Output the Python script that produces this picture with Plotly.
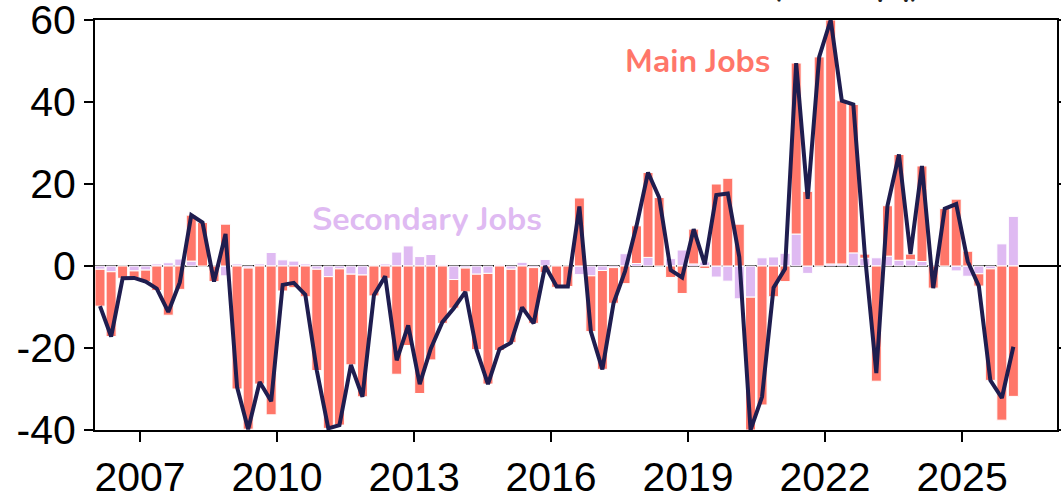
import plotly.graph_objects as go

# Quarterly data, 2006 Q1 .. 2026 Q1 (values in thousands)
main_jobs = [
    -9.0, -15.8, -3.0, -1.7, -2.8, -6.0, -12.0, -5.7,
    11.2, 10.6, -3.8, 10.2, -30.0, -39.3, -28.8, -36.3,
    -6.1, -5.3, -7.5, -24.7, -37.0, -38.1, -22.1, -29.7,
    -7.3, -3.0, -26.4, -19.4, -31.1, -22.9, -14.0, -7.0,
    -5.8, -18.4, -27.0, -20.6, -17.9, -11.0, -13.6, -1.6,
    -5.2, -5.0, 16.6, -13.6, -24.1, -8.7, -4.3, 9.2,
    20.7, 16.7, -2.8, -6.7, 8.5, -0.6, 20.0, 21.4,
    10.2, -32.4, -33.9, -7.5, -3.8, 41.7, 18.2, 51.0,
    59.5, 39.8, 36.2, 1.0, -28.1, 12.3, 25.8, 1.4,
    23.3, -5.4, 14.0, 16.3, 3.6, -3.0, -27.2, -37.6,
    -31.8,
]
secondary_jobs = [
    -0.8, -1.4, 0.0, -1.2, -1.0, 0.5, 0.8, 1.7,
    1.2, 0.0, 0.0, -2.4, 0.5, -0.5, 0.5, 3.3,
    1.5, 1.2, 0.5, -0.8, -2.6, -0.7, -2.0, -2.2,
    0.2, 0.5, 3.4, 4.9, 2.3, 2.8, 0.3, -3.3,
    -0.5, -2.0, -1.8, 0.3, -0.8, 0.9, -0.4, 1.6,
    0.2, 0.0, -2.1, -2.4, -1.1, -0.4, 3.0, 0.6,
    2.1, 0.0, 1.8, 3.9, 0.5, 1.0, -2.7, -3.7,
    -8.0, -7.6, 2.0, 2.2, 3.1, 7.8, -1.8, 0.0,
    0.5, 0.5, 3.2, 1.9, 2.0, 2.4, 1.4, 1.5,
    1.1, 0.0, 0.0, -1.2, -2.5, -1.9, -0.7, 5.4,
    12.1,
]
total_jobs = [
    -9.8, -17.2, -3.0, -2.9, -3.8, -5.5, -11.2, -4.0,
    12.4, 10.6, -3.8, 7.8, -29.5, -39.8, -28.3, -33.0,
    -4.6, -4.1, -7.0, -25.5, -39.6, -38.8, -24.1, -31.9,
    -7.1, -2.5, -23.0, -14.5, -28.8, -20.1, -13.7, -10.3,
    -6.3, -20.4, -28.8, -20.3, -18.7, -10.1, -14.0, 0.0,
    -5.0, -5.0, 14.5, -16.0, -25.2, -9.1, -1.3, 9.8,
    22.8, 16.7, -1.0, -2.8, 9.0, 0.4, 17.3, 17.7,
    2.2, -40.0, -31.9, -5.3, -0.7, 49.5, 16.4, 51.0,
    60.0, 40.3, 39.4, 2.9, -26.1, 14.7, 27.2, 2.9,
    24.4, -5.4, 14.0, 15.1, 1.1, -4.9, -27.9, -32.2,
    -19.7,
]
quarters = [f"{y}-{m:02d}-15" for y in range(2006, 2027) for m in (2, 5, 8, 11)][:len(main_jobs)]

tick_years = [2007, 2010, 2013, 2016, 2019, 2022, 2025]
y_ticks = [-40, -20, 0, 20, 40, 60]

SALMON = "#ff7669"
LAVENDER = "#dfbaf2"
NAVY = "#1f1d4f"

fig = go.Figure()
fig.add_trace(go.Bar(x=quarters, y=secondary_jobs, name="Secondary Jobs",
                     marker=dict(color=LAVENDER, line=dict(color="white", width=1))))
fig.add_trace(go.Bar(x=quarters, y=main_jobs, name="Main Jobs",
                     marker=dict(color=SALMON, line=dict(color="white", width=1))))
fig.add_trace(go.Scatter(x=quarters, y=total_jobs, mode="lines", name="Total",
                         line=dict(color=NAVY, width=4)))

# plot area in pixels: x 95..1057, y 20..430
L, R, T, B = 95, 1057, 20, 430
W, H = R - L, B - T

fig.update_layout(
    width=1061, height=492,
    margin=dict(l=L, r=1061 - R, t=T, b=492 - B, autoexpand=False),
    barmode="relative", bargap=0.1,
    showlegend=False,
    plot_bgcolor="white", paper_bgcolor="white",
    font=dict(family="Liberation Sans, Arial, sans-serif", size=41, color="black"),
)
fig.update_xaxes(
    type="date", range=["2006-01-06", "2027-01-30"], automargin=False,
    tickvals=[f"{y}-01-01" for y in tick_years], ticktext=[str(y) for y in tick_years],
    ticks="outside", ticklen=10, tickwidth=2, tickcolor="black",
    showline=True, linecolor="black", linewidth=2, mirror=True,
    showgrid=False, zeroline=False, ticklabeloverflow="allow",
)
fig.update_yaxes(
    range=[-40, 60], automargin=False, tickvals=y_ticks, ticktext=[str(v) for v in y_ticks],
    ticks="outside", ticklen=9, tickwidth=2, tickcolor="black",
    showline=True, linecolor="black", linewidth=2, mirror="ticks",
    showgrid=False, zeroline=True, zerolinecolor="black", zerolinewidth=2,
    ticklabeloverflow="allow",
)

ann_font = "Nunito, Lato, sans-serif"
fig.add_annotation(xref="paper", yref="paper", x=(697 - L) / W, y=(B - 62) / H,
                   xanchor="center", yanchor="middle",
                   text="<b>Main Jobs</b>", showarrow=False,
                   font=dict(family=ann_font, size=32, color=SALMON))
fig.add_annotation(xref="paper", yref="paper", x=(427 - L) / W, y=(B - 219) / H,
                   xanchor="center", yanchor="middle",
                   text="<b>Secondary Jobs</b>", showarrow=False,
                   font=dict(family=ann_font, size=32, color=LAVENDER))
fig.add_annotation(xref="paper", yref="paper", x=(922 - L) / W, y=(B - 9) / H,
                   xanchor="right", yanchor="bottom",
                   text="<b>Labour Market Contributions (000s, q/q)</b>", showarrow=False,
                   font=dict(family=ann_font, size=30, color="#222222"))

fig.write_html("out.html", config={"displayModeBar": False},
               post_script="document.body.style.margin='0px';")
